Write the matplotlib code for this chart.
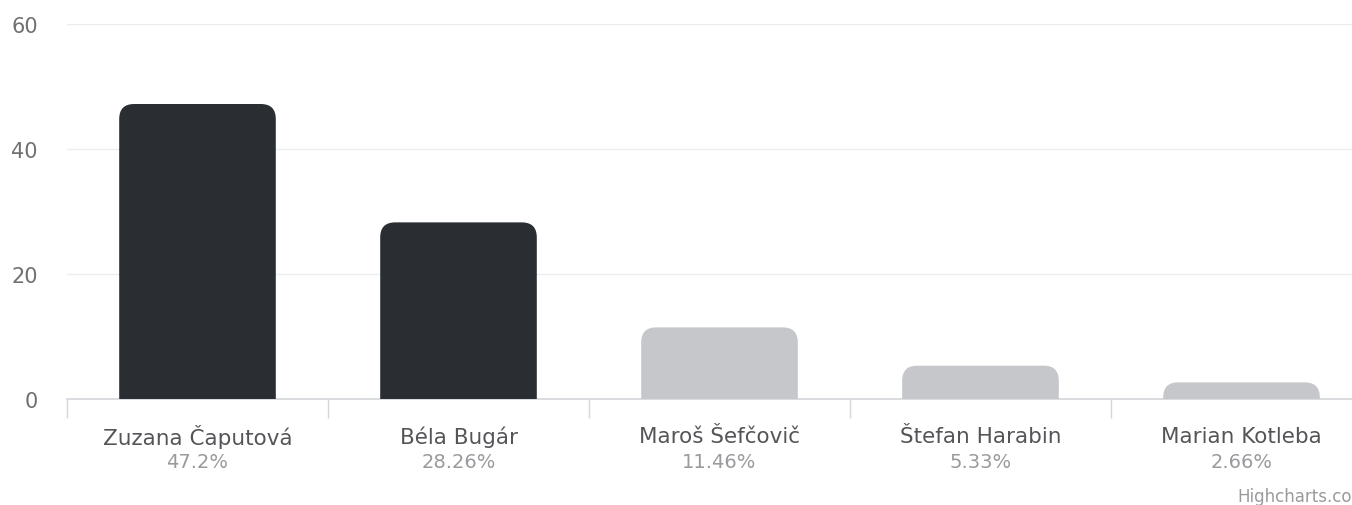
import matplotlib.pyplot as plt
from matplotlib.patches import FancyBboxPatch

# data
candidates = ["Zuzana Čaputová", "Béla Bugár", "Maroš Šefčovič", "Štefan Harabin", "Marian Kotleba"]
shares = [47.2, 28.26, 11.46, 5.33, 2.66]
share_labels = ["47.2%", "28.26%", "11.46%", "5.33%", "2.66%"]
bar_colors = ["#2a2e33", "#2a2e33", "#c6c7cb", "#c6c7cb", "#c6c7cb"]
y_ticks = [0, 20, 40, 60]

W, H = 1352, 506
fig = plt.figure(figsize=(W / 100, H / 100), dpi=100)
plt.rcParams['font.family'] = ['DejaVu Sans']

# axes runs off the right edge, like the cropped original
left, bottom, width, height = 67, 106, 1305, 375
ax = fig.add_axes([left / W, bottom / H, width / W, height / H])
ax.set_xlim(-0.5, len(candidates) - 0.5)
ax.set_ylim(0, 60)

bar_w = 0.6
px_x = width / len(candidates)   # pixels per x unit
px_y = height / 60.0             # pixels per y unit
radius_px = 15
for i, (v, c) in enumerate(zip(shares, bar_colors)):
    # start below zero so only the top corners look rounded
    y0 = -radius_px / px_y
    patch = FancyBboxPatch((i - bar_w / 2, y0), bar_w, v - y0,
                           boxstyle="round,pad=0,rounding_size=%f" % (radius_px / px_x),
                           mutation_aspect=px_x / px_y,
                           facecolor=c, edgecolor="none", zorder=3)
    ax.add_patch(patch)

# grid and axes
ax.set_yticks(y_ticks)
ax.yaxis.grid(True, color="#ebeef0", linewidth=1)
ax.set_axisbelow(True)
ax.tick_params(axis="y", length=0, pad=21, labelsize=15, labelcolor="#707070")
for side in ["top", "right", "left"]:
    ax.spines[side].set_visible(False)
ax.spines["bottom"].set_color("#d4d6da")
ax.spines["bottom"].set_linewidth(1.2)

bounds = [i - 0.5 for i in range(len(candidates) + 1)]
ax.set_xticks(bounds)
ax.set_xticklabels([])
ax.tick_params(axis="x", length=14, width=1, color="#d4d6da", direction="out")

for i, (name, pct) in enumerate(zip(candidates, share_labels)):
    ax.annotate(name, xy=(i, 0), xycoords=("data", "axes fraction"),
                xytext=(0, -27), textcoords="offset points",
                ha="center", va="center", fontsize=15.5, color="#555559")
    ax.annotate(pct, xy=(i, 0), xycoords=("data", "axes fraction"),
                xytext=(0, -45), textcoords="offset points",
                ha="center", va="center", fontsize=14, color="#9a9a9e")

fig.text(1352 / W, 1 - 497 / H, "Highcharts.co", ha="right", va="center",
         fontsize=12, color="#9a9a9e")

fig.savefig("out.png", dpi=100)
